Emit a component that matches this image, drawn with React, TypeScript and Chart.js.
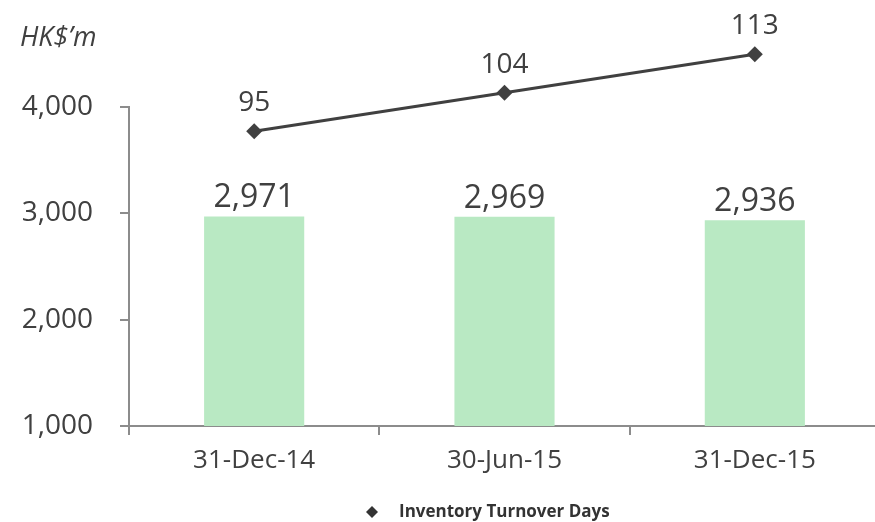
import React, { useEffect, useRef } from "react";
import { Chart, registerables } from "chart.js";

Chart.register(...registerables);

const categories = ["31-Dec-14", "30-Jun-15", "31-Dec-15"];
const inventoryValues = [2971, 2969, 2936];
const turnoverDays = [95, 104, 113];
const yAxisMin = 1000;
const yAxisMax = 4000;
const yAxisStep = 1000;
const legendLabel = "Inventory Turnover Days";
const unitLabel = "HK$\u2019m";

const FONT = '"Open Sans", sans-serif';
const TEXT = "#404040";
const AXIS = "#8c8c8c";
const BAR = "#b9e9c3";

function diamond(ctx: CanvasRenderingContext2D, cx: number, cy: number, r: number) {
  ctx.beginPath();
  ctx.moveTo(cx, cy - r);
  ctx.lineTo(cx + r, cy);
  ctx.lineTo(cx, cy + r);
  ctx.lineTo(cx - r, cy);
  ctx.closePath();
  ctx.fill();
}

export default function App() {
  const ref = useRef<HTMLCanvasElement>(null);

  useEffect(() => {
    if (!ref.current) return;
    const labelsPlugin = {
      id: "customLabels",
      afterDatasetsDraw(chart: any) {
        const ctx = chart.ctx;
        ctx.save();
        ctx.fillStyle = TEXT;
        ctx.textAlign = "center";
        ctx.textBaseline = "alphabetic";
        const barMeta = chart.getDatasetMeta(0);
        ctx.font = `32px ${FONT}`;
        barMeta.data.forEach((el: any, i: number) => {
          ctx.fillText(inventoryValues[i].toLocaleString("en-US"), el.x, el.y - 9);
        });
        const lineMeta = chart.getDatasetMeta(1);
        lineMeta.data.forEach((el: any) => {
          diamond(ctx, el.x, el.y, 8);
        });
        ctx.font = `28px ${FONT}`;
        lineMeta.data.forEach((el: any, i: number) => {
          ctx.fillText(String(turnoverDays[i]), el.x, el.y - 20);
        });
        // unit title
        ctx.textAlign = "left";
        ctx.font = `italic 27px ${FONT}`;
        ctx.fillText(unitLabel, 20, 46);
        // legend
        const cx = 372;
        const cy = 512;
        ctx.fillStyle = "#333333";
        diamond(ctx, cx, cy, 6);
        ctx.font = `bold 17px ${FONT}`;
        ctx.textBaseline = "middle";
        ctx.fillText(legendLabel, 399, cy);
        ctx.restore();
      },
    };

    const chart = new Chart(ref.current, {
      type: "bar",
      data: {
        labels: categories,
        datasets: [
          {
            type: "bar",
            label: "Inventory",
            data: inventoryValues,
            backgroundColor: BAR,
            barPercentage: 0.4,
            categoryPercentage: 1,
            yAxisID: "y",
            order: 2,
          },
          {
            type: "line",
            label: legendLabel,
            data: turnoverDays,
            borderColor: TEXT,
            backgroundColor: TEXT,
            borderWidth: 3,
            pointRadius: 0,
            yAxisID: "y2",
            clip: false as any,
            order: 1,
          } as any,
        ],
      },
      options: {
        responsive: false,
        animation: false,
        devicePixelRatio: 1,
        layout: { padding: { left: 0, right: 5, top: 107, bottom: 36 } },
        plugins: {
          legend: { display: false },
          tooltip: { enabled: false },
        },
        scales: {
          x: {
            grid: {
              offset: true,
              drawOnChartArea: false,
              color: AXIS,
              lineWidth: 2,
              tickLength: 9,
            },
            border: { color: AXIS, width: 2 },
            ticks: {
              color: TEXT,
              font: { family: FONT, size: 26 },
              padding: 10,
            },
            afterFit: (scale: any) => {
              scale.height = 60;
            },
          },
          y: {
            min: yAxisMin,
            max: yAxisMax,
            grid: {
              drawOnChartArea: false,
              color: AXIS,
              lineWidth: 2,
              tickLength: 9,
            },
            border: { color: AXIS, width: 2 },
            ticks: {
              stepSize: yAxisStep,
              color: TEXT,
              font: { family: FONT, size: 28 },
              padding: 27,
              callback: (v: any) => Number(v).toLocaleString("en-US"),
            },
            afterFit: (scale: any) => {
              scale.width = 129;
            },
          },
          y2: {
            display: false,
            min: 26.1,
            max: 100.65,
          },
        },
      },
      plugins: [labelsPlugin],
    });
    return () => chart.destroy();
  }, []);

  return (
    <div
      style={{
        position: "fixed",
        left: 0,
        top: 0,
        width: 875,
        height: 522,
        overflow: "hidden",
        background: "#ffffff",
      }}
    >
      <canvas ref={ref} width={885} height={522} style={{ display: "block" }} />
    </div>
  );
}
